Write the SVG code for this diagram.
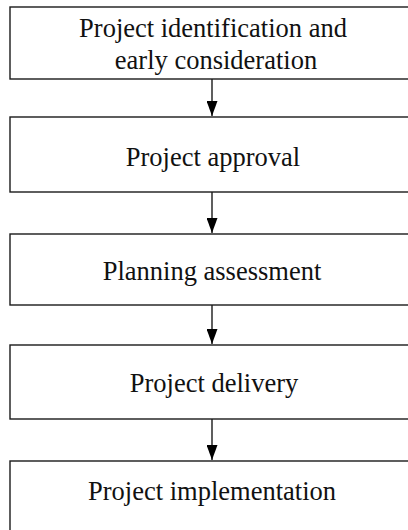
<svg xmlns="http://www.w3.org/2000/svg" width="408" height="530" viewBox="0 0 408 530">
  <style>
    .box { fill: #ffffff; stroke: #1a1a1a; stroke-width: 1.4; }
    .label { font-family: "Liberation Serif", "Times New Roman", serif; font-size: 26.5px; fill: #111111; text-anchor: middle; }
    .link { stroke: #1a1a1a; stroke-width: 1.4; fill: none; }
  </style>
  <defs>
    <marker id="arrow" markerWidth="15" markerHeight="11" refX="15" refY="5.5" orient="auto" markerUnits="userSpaceOnUse" viewBox="0 0 15 11">
      <path d="M0,0 L15,5.5 L0,11 Z" fill="#000000"/>
    </marker>
  </defs>
  <rect width="408" height="530" fill="#ffffff"/>

  <g id="connectors">
    <line class="link" x1="212" y1="79" x2="212" y2="116" marker-end="url(#arrow)"/>
    <line class="link" x1="212" y1="192" x2="212" y2="233" marker-end="url(#arrow)"/>
    <line class="link" x1="212" y1="305" x2="212" y2="344" marker-end="url(#arrow)"/>
    <line class="link" x1="212" y1="419" x2="212" y2="460" marker-end="url(#arrow)"/>
  </g>

  <g id="identification">
    <rect class="box" x="10" y="7" width="406" height="72"/>
    <text class="label" x="213" y="37">Project identification and</text>
    <text class="label" x="216" y="69">early consideration</text>
  </g>
  <g id="approval">
    <rect class="box" x="10" y="117" width="406" height="75"/>
    <text class="label" x="213" y="166">Project approval</text>
  </g>
  <g id="assessment">
    <rect class="box" x="10" y="234" width="406" height="71"/>
    <text class="label" x="212" y="280">Planning assessment</text>
  </g>
  <g id="delivery">
    <rect class="box" x="10" y="345" width="406" height="74"/>
    <text class="label" x="214" y="392">Project delivery</text>
  </g>
  <g id="implementation">
    <rect class="box" x="10" y="461" width="406" height="90"/>
    <text class="label" x="212" y="500">Project implementation</text>
  </g>
</svg>
